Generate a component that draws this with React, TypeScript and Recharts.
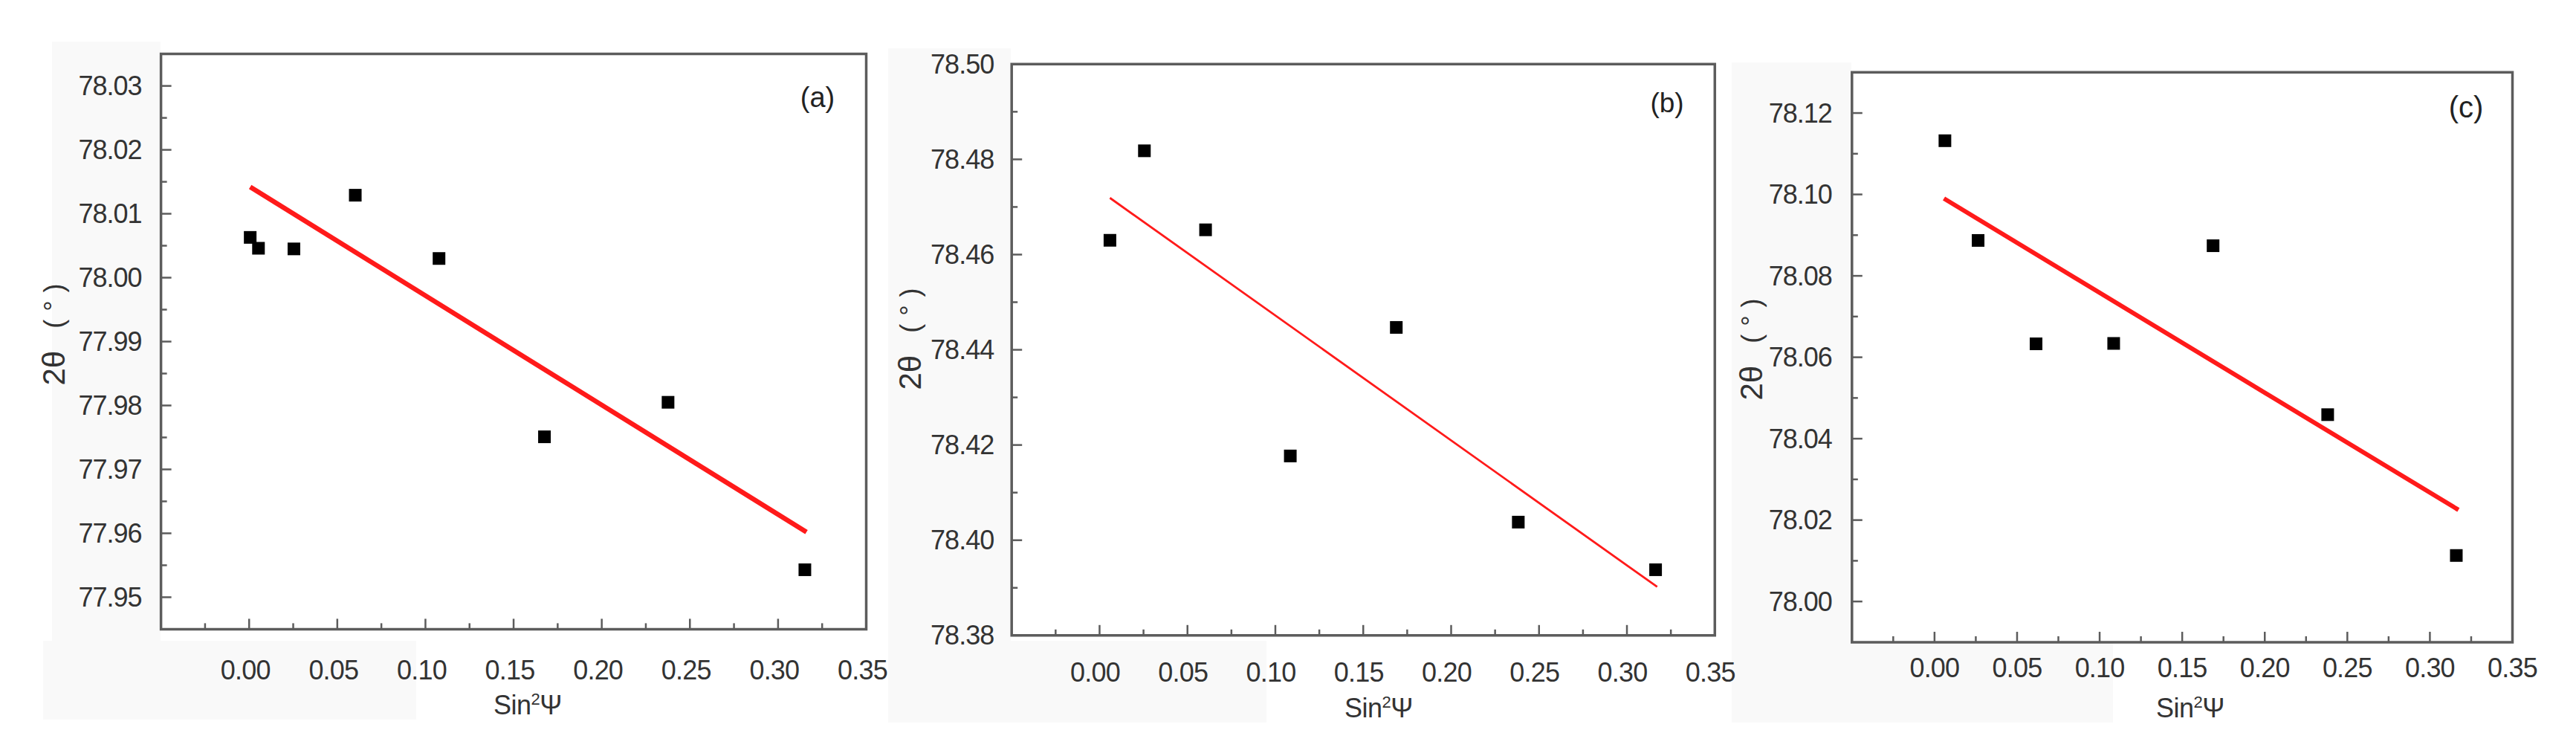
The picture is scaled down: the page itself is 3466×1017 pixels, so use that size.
import React from 'react';
import { ScatterChart, Scatter, XAxis, YAxis, ReferenceArea } from 'recharts';

// ---------- data ----------
// shared x axis
const xDomain = [-0.05, 0.35];
const xMajorTicks = [0, 0.05, 0.1, 0.15, 0.2, 0.25, 0.3, 0.35];
const xMinorTicks = [-0.025, 0.025, 0.075, 0.125, 0.175, 0.225, 0.275, 0.325];

// panel (a)
const aSin2Psi = [0.0006, 0.0053, 0.0254, 0.0602, 0.1077, 0.1675, 0.2376, 0.3152];
const aTwoTheta = [78.0063, 78.0046, 78.0045, 78.0129, 78.003, 77.9751, 77.9805, 77.9543];
const aFitX = [0.0006, 0.3161];
const aFitY = [78.0142, 77.9602];
const aYDomain = [77.945, 78.035];
const aYMajor = [77.95, 77.96, 77.97, 77.98, 77.99, 78.0, 78.01, 78.02, 78.03];
const aYMinor = [77.955, 77.965, 77.975, 77.985, 77.995, 78.005, 78.015, 78.025];

// panel (b)
const bSin2Psi = [0.0059, 0.0255, 0.0603, 0.1085, 0.1688, 0.2382, 0.3163];
const bTwoTheta = [78.463, 78.4818, 78.4652, 78.4177, 78.4447, 78.4038, 78.3938];
const bFitX = [0.0059, 0.3172];
const bFitY = [78.4719, 78.3902];
const bYDomain = [78.38, 78.5];
const bYMajor = [78.38, 78.4, 78.42, 78.44, 78.46, 78.48, 78.5];
const bYMinor = [78.39, 78.41, 78.43, 78.45, 78.47, 78.49];

// panel (c)
const cSin2Psi = [0.0063, 0.0264, 0.0615, 0.1085, 0.1687, 0.2381, 0.316];
const cTwoTheta = [78.1132, 78.0887, 78.0633, 78.0634, 78.0874, 78.0459, 78.0113];
const cFitX = [0.0057, 0.3173];
const cFitY = [78.099, 78.0225];
const cYDomain = [77.99, 78.13];
const cYMajor = [78.0, 78.02, 78.04, 78.06, 78.08, 78.1, 78.12];
const cYMinor = [78.01, 78.03, 78.05, 78.07, 78.09, 78.11];

const xTitle = 'Sin';
const yTitleMain = '2θ';
const yTitleUnit = ['(', '°', ')'];

// ---------- styles ----------
const AXIS = '#5c5c5c';
const TEXT = '#333333';
const RED = '#ff1a1a';
const FONT = "'Liberation Sans', Arial, sans-serif";

const isIn = (list: number[], v: number) => list.some((m) => Math.abs(m - v) < 1e-9);

function makeXTick(majors: number[], gap: number, dx: number) {
  return (props: any) => {
    const { x, y, payload } = props;
    const v = payload.value as number;
    const major = isIn(majors, v);
    const axisY = y - gap;
    return (
      <g>
        <line x1={x} x2={x} y1={axisY} y2={axisY - (major ? 14 : 8)} stroke={AXIS} strokeWidth={2.5} />
        {major && (
          <text x={x + dx} y={y} textAnchor="middle" dominantBaseline="central" fontSize={36} letterSpacing={-0.8} fill={TEXT} fontFamily={FONT}>
            {v.toFixed(2)}
          </text>
        )}
      </g>
    );
  };
}

function makeYTick(majors: number[], gap: number) {
  return (props: any) => {
    const { x, y, payload } = props;
    const v = payload.value as number;
    const major = isIn(majors, v);
    const axisX = x + gap;
    return (
      <g>
        <line x1={axisX} x2={axisX + (major ? 14 : 8)} y1={y} y2={y} stroke={AXIS} strokeWidth={2.5} />
        {major && (
          <text x={x} y={y} textAnchor="end" dominantBaseline="central" fontSize={36} letterSpacing={-1} fill={TEXT} fontFamily={FONT}>
            {v.toFixed(2)}
          </text>
        )}
      </g>
    );
  };
}

const Square = (props: any) => {
  const { cx, cy } = props;
  if (cx == null || cy == null) return <g />;
  return <rect x={cx - 8.5} y={cy - 8.5} width={17} height={17} fill="#000" />;
};
const NoShape = () => <g />;

type PanelProps = {
  left: number;
  width: number;
  margin: { top: number; right: number; bottom: number; left: number };
  yAxisWidth: number;
  xs: number[];
  ys: number[];
  fitX: number[];
  fitY: number[];
  yDomain: number[];
  yMajor: number[];
  yMinor: number[];
  xGap: number;
  xDx: number;
  yGap: number;
  lineWidth: number;
};

function Panel(p: PanelProps) {
  const points = p.xs.map((x, i) => ({ x, y: p.ys[i] }));
  const fit = p.fitX.map((x, i) => ({ x, y: p.fitY[i] }));
  return (
    <div style={{ position: 'absolute', left: p.left, top: 0, width: p.width, height: 1017 }}>
      <ScatterChart width={p.width} height={1017} margin={p.margin}>
        <XAxis
          type="number"
          dataKey="x"
          domain={xDomain}
          ticks={[...xMajorTicks, ...xMinorTicks]}
          interval={0}
          axisLine={false}
          tickLine={false}
          tickSize={0}
          tickMargin={p.xGap}
          height={60}
          tick={makeXTick(xMajorTicks, p.xGap, p.xDx)}
          allowDataOverflow
        />
        <YAxis
          type="number"
          dataKey="y"
          domain={p.yDomain}
          ticks={[...p.yMajor, ...p.yMinor]}
          interval={0}
          axisLine={false}
          tickLine={false}
          tickSize={0}
          tickMargin={p.yGap}
          width={p.yAxisWidth}
          tick={makeYTick(p.yMajor, p.yGap)}
          allowDataOverflow
        />
        <ReferenceArea
          x1={xDomain[0]}
          x2={xDomain[1]}
          y1={p.yDomain[0]}
          y2={p.yDomain[1]}
          fill="none"
          fillOpacity={0}
          stroke={AXIS}
          strokeWidth={3.5}
          ifOverflow="visible"
        />
        <Scatter data={fit} line={{ stroke: RED, strokeWidth: p.lineWidth }} lineType="joint" shape={NoShape} isAnimationActive={false} />
        <Scatter data={points} shape={Square} fill="#000" isAnimationActive={false} />
      </ScatterChart>
    </div>
  );
}

const abs = (left: number, top: number, w: number, h: number, bg = '#f9f9f9'): React.CSSProperties => ({
  position: 'absolute',
  left,
  top,
  width: w,
  height: h,
  background: bg,
});

function YTitle({ cx, cy }: { cx: number; cy: number }) {
  return (
    <text
      x={cx}
      y={cy}
      transform={`rotate(-90 ${cx} ${cy})`}
      textAnchor="middle"
      dominantBaseline="central"
      fill={TEXT}
      fontFamily={FONT}
    >
      <tspan fontSize={42}>{yTitleMain}</tspan>
      <tspan fontSize={36} dx={30}>
        {yTitleUnit[0]}
      </tspan>
      <tspan fontSize={36} dx={11}>
        {yTitleUnit[1]}
      </tspan>
      <tspan fontSize={36} dx={11}>
        {yTitleUnit[2]}
      </tspan>
    </text>
  );
}

function XTitle({ cx, cy }: { cx: number; cy: number }) {
  return (
    <div
      style={{
        position: 'absolute',
        left: cx,
        top: cy,
        transform: 'translate(-50%, -50%)',
        whiteSpace: 'nowrap',
        fontFamily: FONT,
        fontSize: 36,
        letterSpacing: -0.5,
        color: TEXT,
        lineHeight: 1,
      }}
    >
      {xTitle}
      <sup style={{ fontSize: 22, verticalAlign: 'super', lineHeight: 0 }}>2</sup>Ψ
    </div>
  );
}

function Letter({ cx, cy, text, size }: { cx: number; cy: number; text: string; size: number }) {
  return (
    <div
      style={{
        position: 'absolute',
        left: cx,
        top: cy,
        transform: 'translate(-50%, -50%)',
        whiteSpace: 'nowrap',
        fontFamily: FONT,
        fontSize: size,
        color: '#222',
        lineHeight: 1,
      }}
    >
      {text}
    </div>
  );
}

export default function App() {
  return (
    <div style={{ position: 'absolute', left: 0, top: 0, width: 3466, height: 1017, background: '#fff', overflow: 'hidden' }}>
      {/* faint scan-background areas behind the labels */}
      <div style={abs(70, 56, 146, 806)} />
      <div style={abs(58, 862, 502, 106)} />
      <div style={abs(1195, 65, 165, 797)} />
      <div style={abs(1195, 862, 509, 110)} />
      <div style={abs(2330, 84, 161, 778)} />
      <div style={abs(2330, 862, 513, 110)} />

      <Panel
        left={0}
        width={1225}
        margin={{ top: 72.6, right: 59.5, bottom: 110.6, left: 0 }}
        yAxisWidth={216.6}
        xs={aSin2Psi}
        ys={aTwoTheta}
        fitX={aFitX}
        fitY={aFitY}
        yDomain={aYDomain}
        yMajor={aYMajor}
        yMinor={aYMinor}
        xGap={55}
        xDx={-5}
        yGap={26}
        lineWidth={6.5}
      />
      <Panel
        left={1190}
        width={1175}
        margin={{ top: 86.3, right: 57.7, bottom: 102.2, left: 0 }}
        yAxisWidth={171.2}
        xs={bSin2Psi}
        ys={bTwoTheta}
        fitX={bFitX}
        fitY={bFitY}
        yDomain={bYDomain}
        yMajor={bYMajor}
        yMinor={bYMinor}
        xGap={50}
        xDx={-6}
        yGap={24}
        lineWidth={2.8}
      />
      <Panel
        left={2330}
        width={1136}
        margin={{ top: 97.3, right: 85.5, bottom: 93.1, left: 0 }}
        yAxisWidth={161.8}
        xs={cSin2Psi}
        ys={cTwoTheta}
        fitX={cFitX}
        fitY={cFitY}
        yDomain={cYDomain}
        yMajor={cYMajor}
        yMinor={cYMinor}
        xGap={35}
        xDx={0}
        yGap={27}
        lineWidth={6}
      />

      <svg width={3466} height={1017} style={{ position: 'absolute', left: 0, top: 0, pointerEvents: 'none' }}>
        <YTitle cx={72} cy={450} />
        <YTitle cx={1224} cy={456} />
        <YTitle cx={2356} cy={470} />
      </svg>
      <XTitle cx={710} cy={949} />
      <XTitle cx={1855} cy={953} />
      <XTitle cx={2947} cy={953} />
      <Letter cx={1100} cy={131} text="(a)" size={38} />
      <Letter cx={2243} cy={138} text="(b)" size={37} />
      <Letter cx={3318} cy={144} text="(c)" size={40} />
    </div>
  );
}
